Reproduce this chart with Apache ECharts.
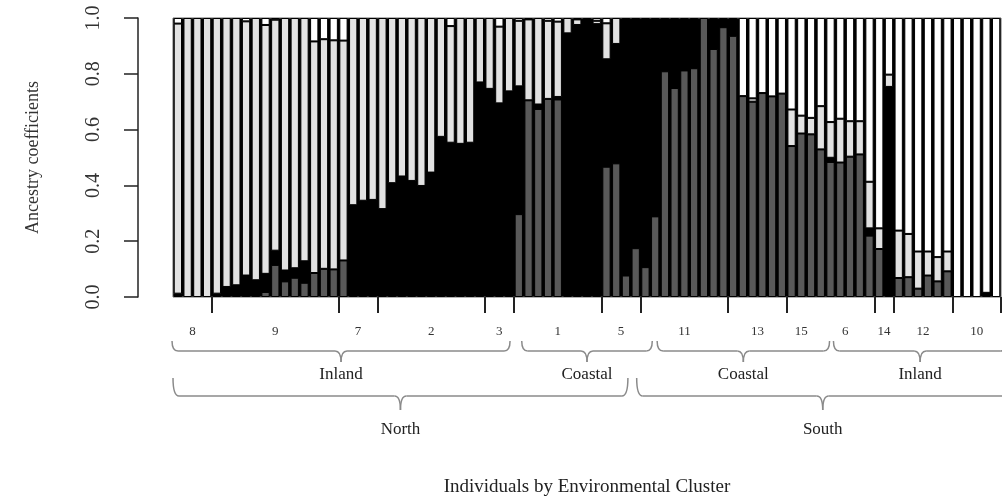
<!DOCTYPE html>
<html><head><meta charset="utf-8">
<script src="https://cdn.jsdelivr.net/npm/echarts@6/dist/echarts.min.js"></script>
<style>html,body{margin:0;padding:0;background:#fff}#c{width:1002px;height:502px}</style>
</head><body><div id="c"></div>
<script>
// ---- data ----
const groupLabels = ['8','9','7','2','3','1','5','11','13','15','6','14','12','10'];
const groupSizes  = [4,13,4,11,3,9,4,9,6,3,6,2,6,5];
const untickedGroups = ['6'];            // no boundary tick drawn before this group
const yTickLabels = ['0.0','0.2','0.4','0.6','0.8','1.0'];

// ancestry coefficients per individual (K = 4), bottom to top; one line per cluster group
const darkGray = [
 0,0,0,0,
 0,0,0,0,0,0.018,0.115,0.056,0.069,0.051,0.086,0.101,0.099,
 0.131,0,0,0,
 0,0,0,0,0,0,0,0,0,0,0,
 0,0.004,0,
 0.297,0.705,0.674,0.71,0.708,0,0,0,0,
 0.467,0.479,0.077,0.175,
 0.107,0.289,0.809,0.749,0.812,0.82,1,0.889,0.967,
 0.936,0.72,0.70,0.731,0.719,0.729,
 0.541,0.586,0.583,
 0.529,0.484,0.482,0.503,0.511,0.22,
 0.172,0,
 0.068,0.071,0.03,0.077,0.056,0.092,
 0,0,0,0,0];
const black = [
 0.012,0,0,0,
 0.012,0.036,0.042,0.077,0.06,0.065,0.051,0.039,0.034,0.077,0,0,0,
 0,0.329,0.345,0.348,
 0.315,0.408,0.432,0.416,0.398,0.446,0.574,0.553,0.549,0.553,0.769,
 0.746,0.69,0.737,
 0.458,0,0.016,0,0.009,0.945,0.975,1,0.978,
 0.385,0.428,0.923,0.825,
 0.893,0.711,0.191,0.251,0.188,0.18,0,0.111,0.033,
 0.064,0,0,0,0,0,
 0,0,0,
 0,0.015,0,0,0,0.026,
 0,0.753,
 0,0,0,0,0,0,
 0,0,0,0.015,0];
const lightGray = [
 0.968,1,1,1,
 0.988,0.964,0.958,0.911,0.94,0.892,0.828,0.905,0.897,0.872,0.83,0.823,0.821,
 0.788,0.671,0.655,0.652,
 0.685,0.592,0.568,0.584,0.602,0.554,0.426,0.418,0.451,0.447,0.231,
 0.254,0.275,0.263,
 0.235,0.29,0.31,0.28,0.27,0.055,0.02,0,0.012,
 0.129,0.093,0,0,
 0,0,0,0,0,0,0,0,0,
 0,0,0.012,0,0,0,
 0.131,0.064,0.059,
 0.155,0.128,0.157,0.127,0.119,0.167,
 0.074,0.044,
 0.17,0.155,0.133,0.086,0.087,0.071,
 0,0,0,0,0];
const white = [
 0.02,0,0,0,
 0,0,0,0.012,0,0.025,0.006,0,0,0,0.084,0.076,0.08,
 0.081,0,0,0,
 0,0,0,0,0,0,0,0.029,0,0,0,
 0,0.031,0,
 0.01,0.005,0,0.01,0.013,0,0.005,0,0.01,
 0.019,0,0,0,
 0,0,0,0,0,0,0,0,0,
 0,0.28,0.288,0.269,0.281,0.271,
 0.328,0.35,0.358,
 0.316,0.373,0.361,0.37,0.37,0.587,
 0.754,0.203,
 0.762,0.774,0.837,0.837,0.857,0.837,
 1,1,1,0.985,1];

// upper-level annotations: [text, level, start, end] in individual units
const braces = [
 ['Inland', 1, -0.1, 34.6], ['Coastal', 1, 35.8, 49.2],
 ['Coastal', 1, 49.7, 67.4], ['Inland', 1, 67.8, 85.6],
 ['North', 2, 0.0, 46.7], ['South', 2, 47.6, 85.8]
];

// ---- build ----
const categories = [];
const groupStart = [];
groupLabels.forEach((g, gi) => {
  groupStart.push(categories.length);
  for (let k = 0; k < groupSizes[gi]; k++) categories.push(g + '_' + (k + 1));
});
const tickIdx = new Set(groupStart.filter((s, gi) => gi > 0 && !untickedGroups.includes(groupLabels[gi])));

const serif = "'Liberation Serif', 'DejaVu Serif', serif";
const clean = arr => arr.map(v => v === 0 ? '-' : v);
const mk = (name, data, color) => ({
  name, type: 'bar', stack: 'q', data: clean(data),
  barCategoryGap: '15%',
  itemStyle: { color, borderColor: '#000', borderWidth: 1 },
  emphasis: { disabled: true }, animation: false
});

const chart = echarts.init(document.getElementById('c'), null, { renderer: 'canvas' });
chart.setOption({
  animation: false,
  backgroundColor: '#fff',
  grid: { left: 173, right: 1, top: 18, bottom: 203, show: true,
          backgroundColor: '#000', borderColor: '#666', borderWidth: 1 },
  xAxis: {
    type: 'category', data: categories, offset: 1,
    axisLine: { show: false },
    axisTick: { show: true, length: 16, interval: (i) => tickIdx.has(i),
                lineStyle: { color: '#222', width: 2 } },
    axisLabel: { show: false },
    name: 'Individuals by Environmental Cluster', nameLocation: 'middle', nameGap: 180,
    nameTextStyle: { fontFamily: serif, fontSize: 19, color: '#222' }
  },
  yAxis: {
    type: 'value', min: 0, max: 1, interval: 0.2, offset: 35,
    axisLine: { show: true, lineStyle: { color: '#222', width: 1.5 } },
    axisTick: { show: true, length: 14, lineStyle: { color: '#222', width: 1.5 } },
    splitLine: { show: false },
    axisLabel: { rotate: 90, margin: 34, fontFamily: serif, fontSize: 20, color: '#333',
                 formatter: (v) => yTickLabels[Math.round(v / 0.2)] },
    name: 'Ancestry coefficients', nameLocation: 'middle', nameRotate: 90, nameGap: 96,
    nameTextStyle: { fontFamily: serif, fontSize: 18, color: '#333' }
  },
  series: [
    mk('K1', darkGray, '#595959'),
    mk('K2', black, '#000000'),
    mk('K3', lightGray, '#e2e2e2'),
    mk('K4', white, '#ffffff')
  ]
});

// annotations positioned through the category axis scale
const c0 = chart.convertToPixel({ xAxisIndex: 0 }, 0);
const c1 = chart.convertToPixel({ xAxisIndex: 0 }, 1);
const bw = c1 - c0;
const ux = (u) => c0 + (u - 0.5) * bw;

const graphics = [];
groupLabels.forEach((g, gi) => {
  const mid = groupStart[gi] + groupSizes[gi] / 2;
  graphics.push({ type: 'text', x: ux(mid), y: 332, silent: true,
    style: { text: g, fontFamily: serif, fontSize: 13, fill: '#333', align: 'center', verticalAlign: 'middle' } });
});
const lv = { 1: { top: 341, line: 351, tip: 362, text: 375 }, 2: { top: 378, line: 396, tip: 410, text: 430 } };
const braceStyle = { stroke: '#8a8a8a', lineWidth: 1.5, fill: null };
function addBrace(x1, x2, L) {
  const xm = (x1 + x2) / 2, r = 6;
  const curve = (ax, ay, cx, cy, bx, by) => graphics.push({ type: 'bezierCurve', silent: true,
    shape: { x1: ax, y1: ay, x2: bx, y2: by, cpx1: cx, cpy1: cy }, style: braceStyle });
  const seg = (ax, ay, bx, by) => graphics.push({ type: 'line', silent: true,
    shape: { x1: ax, y1: ay, x2: bx, y2: by }, style: braceStyle });
  curve(x1, L.top, x1, L.line, x1 + r, L.line);
  seg(x1 + r, L.line, xm - r, L.line);
  curve(xm - r, L.line, xm, L.line, xm, L.tip);
  curve(xm + r, L.line, xm, L.line, xm, L.tip);
  seg(xm + r, L.line, x2 - r, L.line);
  curve(x2 - r, L.line, x2, L.line, x2, L.top);
}
braces.forEach(([t, level, s, e]) => {
  const L = lv[level];
  const x1 = ux(s), x2 = ux(e);
  addBrace(x1, x2, L);
  graphics.push({ type: 'text', x: (x1 + x2) / 2, y: L.text, silent: true,
    style: { text: t, fontFamily: serif, fontSize: 17, fill: '#222', align: 'center', verticalAlign: 'middle' } });
});
chart.setOption({ graphic: graphics });
</script>
</body></html>
